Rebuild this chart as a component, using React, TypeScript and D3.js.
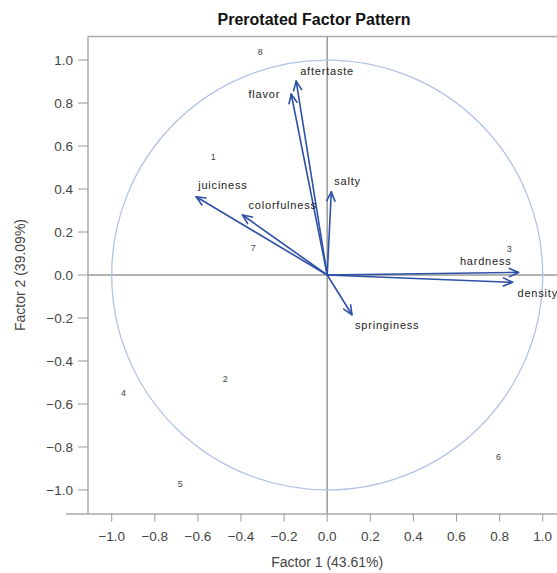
import React from "react";
import * as d3 from "d3";

const variables = ["aftertaste", "flavor", "salty", "juiciness", "colorfulness", "hardness", "density", "springiness"];
const factor1 = [-0.144, -0.167, 0.019, -0.608, -0.393, 0.888, 0.86, 0.115];
const factor2 = [0.902, 0.842, 0.387, 0.364, 0.279, 0.012, -0.034, -0.185];

const observations = ["1", "2", "3", "4", "5", "6", "7", "8"];
const obsFactor1 = [-0.529, -0.473, 0.845, -0.945, -0.682, 0.795, -0.343, -0.311];
const obsFactor2 = [0.549, -0.485, 0.121, -0.547, -0.972, -0.848, 0.126, 1.037];

const ticks = [-1.0, -0.8, -0.6, -0.4, -0.2, 0.0, 0.2, 0.4, 0.6, 0.8, 1.0];

// label placement (layout only)
const labelPlacement: Record<string, { dx: number; dy: number; anchor: string }> = {
  aftertaste: { dx: 4, dy: -10, anchor: "start" },
  flavor: { dx: -11, dy: 0, anchor: "end" },
  salty: { dx: 3, dy: -11, anchor: "start" },
  juiciness: { dx: 2, dy: -12, anchor: "start" },
  colorfulness: { dx: 6, dy: -10, anchor: "start" },
  hardness: { dx: -7, dy: -11, anchor: "end" },
  density: { dx: 5, dy: 11, anchor: "start" },
  springiness: { dx: 3, dy: 10, anchor: "start" },
};

export default function App() {
  const W = 557, H = 573;
  const x = d3.scaleLinear().domain([-1.11, 1.1]).range([88, 88 + 2.21 * 215.5]);
  const y = d3.scaleLinear().domain([-1.11, 1.11]).range([513.6, 36.4]);
  const left = 88, top = 36.5, bottom = 513.6, right = 560;
  const fmt = (v: number) => d3.format(".1f")(v).replace("-", "\u2212");
  const blue = "#2E50A6";
  const tickColor = "#444";
  const font = "'Liberation Sans', Arial, sans-serif";

  const x0 = x(0), y0 = y(0);
  const rx = x(1) - x0, ry = y0 - y(1);

  const arrows = variables.map((name, i) => {
    const tx = x(factor1[i]), ty = y(factor2[i]);
    const ang = Math.atan2(ty - y0, tx - x0);
    const L = 10, a = (24 * Math.PI) / 180;
    const h1 = [tx - L * Math.cos(ang - a), ty - L * Math.sin(ang - a)];
    const h2 = [tx - L * Math.cos(ang + a), ty - L * Math.sin(ang + a)];
    return { name, tx, ty, h1, h2 };
  });

  return (
    <svg width={W} height={H} style={{ position: "absolute", left: 0, top: 0, background: "#fff" }} fontFamily={font}>
      <rect x={0} y={0} width={W} height={H} fill="#fff" />
      <text x={314} y={25} textAnchor="middle" fontSize={16} fontWeight="bold" fill="#111" fontFamily="'Liberation Sans', Arial, sans-serif">
        Prerotated Factor Pattern
      </text>

      {/* frame */}
      <line x1={left} y1={top} x2={right} y2={top} stroke="#aaa" strokeWidth={1.5} />
      <line x1={left} y1={top} x2={left} y2={bottom} stroke="#aaa" strokeWidth={1.5} />
      <line x1={66} y1={bottom + 0.5} x2={W} y2={bottom + 0.5} stroke="#aaa" strokeWidth={1.5} />

      {/* reference lines */}
      <line x1={x0} y1={top} x2={x0} y2={bottom} stroke="#999" strokeWidth={1.5} />
      <line x1={left} y1={y0} x2={right} y2={y0} stroke="#999" strokeWidth={1.5} />

      {/* unit circle */}
      <ellipse cx={x0} cy={y0} rx={rx} ry={ry} fill="none" stroke="#b4c0e6" strokeWidth={1.3} />

      {/* y ticks */}
      {ticks.map((t) => (
        <g key={"y" + t}>
          <line x1={78} x2={left} y1={y(t)} y2={y(t)} stroke="#999" />
          <text x={73} y={y(t)} dy="0.35em" textAnchor="end" fontSize={13.5} fill={tickColor}>
            {fmt(t)}
          </text>
        </g>
      ))}

      {/* x ticks */}
      {ticks.map((t) => (
        <g key={"x" + t}>
          <line x1={x(t)} x2={x(t)} y1={bottom} y2={bottom + 8} stroke="#999" />
          <text x={x(t)} y={541} textAnchor="middle" fontSize={13.5} fill={tickColor}>
            {fmt(t)}
          </text>
        </g>
      ))}

      <text x={x0} y={567} textAnchor="middle" fontSize={14} fill={tickColor}>
        Factor 1 (43.61%)
      </text>
      <text transform={`translate(25, 275) rotate(-90)`} textAnchor="middle" fontSize={14} fill={tickColor}>
        Factor 2 (39.09%)
      </text>

      {/* arrows */}
      {arrows.map((a) => (
        <g key={a.name} stroke={blue} strokeWidth={1.6} fill="none" strokeLinecap="round" strokeLinejoin="round">
          <line x1={x0} y1={y0} x2={a.tx} y2={a.ty} />
          <polyline points={`${a.h1[0]},${a.h1[1]} ${a.tx},${a.ty} ${a.h2[0]},${a.h2[1]}`} />
        </g>
      ))}

      {/* variable labels */}
      {arrows.map((a) => {
        const p = labelPlacement[a.name];
        return (
          <text key={"l" + a.name} x={a.tx + p.dx} y={a.ty + p.dy} dy="0.35em" textAnchor={p.anchor} fontSize={11} letterSpacing={0.8} fill="#222">
            {a.name}
          </text>
        );
      })}

      {/* observation labels */}
      {observations.map((o, i) => (
        <text key={"o" + o} x={x(obsFactor1[i])} y={y(obsFactor2[i])} dy="0.35em" textAnchor="middle" fontSize={9} fill="#444">
          {o}
        </text>
      ))}
    </svg>
  );
}
